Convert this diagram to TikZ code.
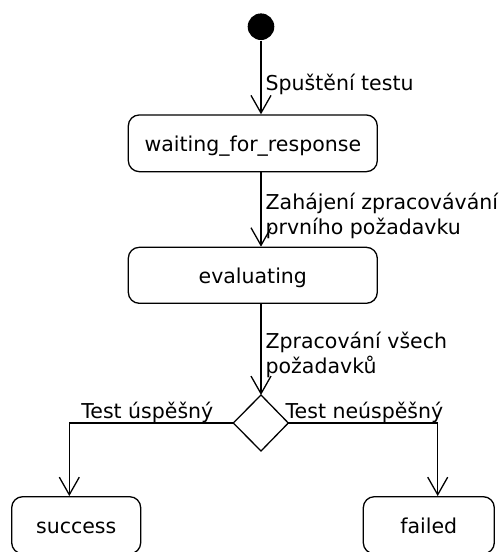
\documentclass[tikz,border=0pt]{standalone}
\usepackage{fontspec}
\setmainfont{DejaVu Sans}
\usetikzlibrary{arrows.meta}
\begin{document}
\begin{tikzpicture}[x=1pt,y=-1pt,
  line width=1.3pt,
  every node/.style={font=\fontsize{20.5}{24.5}\selectfont},
  statebox/.style={draw, rounded corners=11pt, inner sep=0pt, text height=17pt, text depth=0pt},
  trans/.style={-{Straight Barb[length=17.6pt,width=20pt]}},
  lbl/.style={inner sep=0pt, align=left}
]
\clip (0,0) rectangle (501,552);
\useasboundingbox (0,0) rectangle (501,552);

\node[circle, fill=black, inner sep=0pt, minimum size=26.6pt] (init) at (261,26.7) {};

\node[statebox, minimum width=249pt, minimum height=56.7pt] (wait) at (252.8,143.3) {waiting\_for\_response};
\node[statebox, minimum width=249pt, minimum height=56pt] (eval) at (252.8,275.3) {evaluating};
\node[statebox, minimum width=129pt, minimum height=57pt] (succ) at (76.2,525.2) {success};
\node[statebox, minimum width=131pt, minimum height=57pt] (fail) at (428.8,525.2) {failed};

\coordinate (dT) at (261,395);
\coordinate (dR) at (288.3,423);
\coordinate (dB) at (261,451);
\coordinate (dL) at (233.3,423);
\draw (dT) -- (dR) -- (dB) -- (dL) -- cycle;

\draw[trans] (init.south) -- (init.south |- wait.north);
\draw[trans] (261,0 |- wait.south) -- (261,0 |- eval.north);
\draw[trans] (261,0 |- eval.south) -- (dT);
\draw[trans] (dL) -| (69.3,0 |- succ.north);
\draw[trans] (dR) -| (437.7,0 |- fail.north);

\node[lbl, anchor=base west] (l1) at (265,90) {Spuštění testu};
\node[lbl, anchor=base west] (l2) at (265,234) {Zahájení zpracovávání\\prvního požadavku};
\node[lbl, anchor=base west] (l3) at (265,373) {Zpracování všech\\požadavků};
\node[lbl, anchor=base east] (l4) at (214,418) {Test úspěšný};
\node[lbl, anchor=base west] (l5) at (285,418) {Test neúspěšný};
\end{tikzpicture}
\end{document}
